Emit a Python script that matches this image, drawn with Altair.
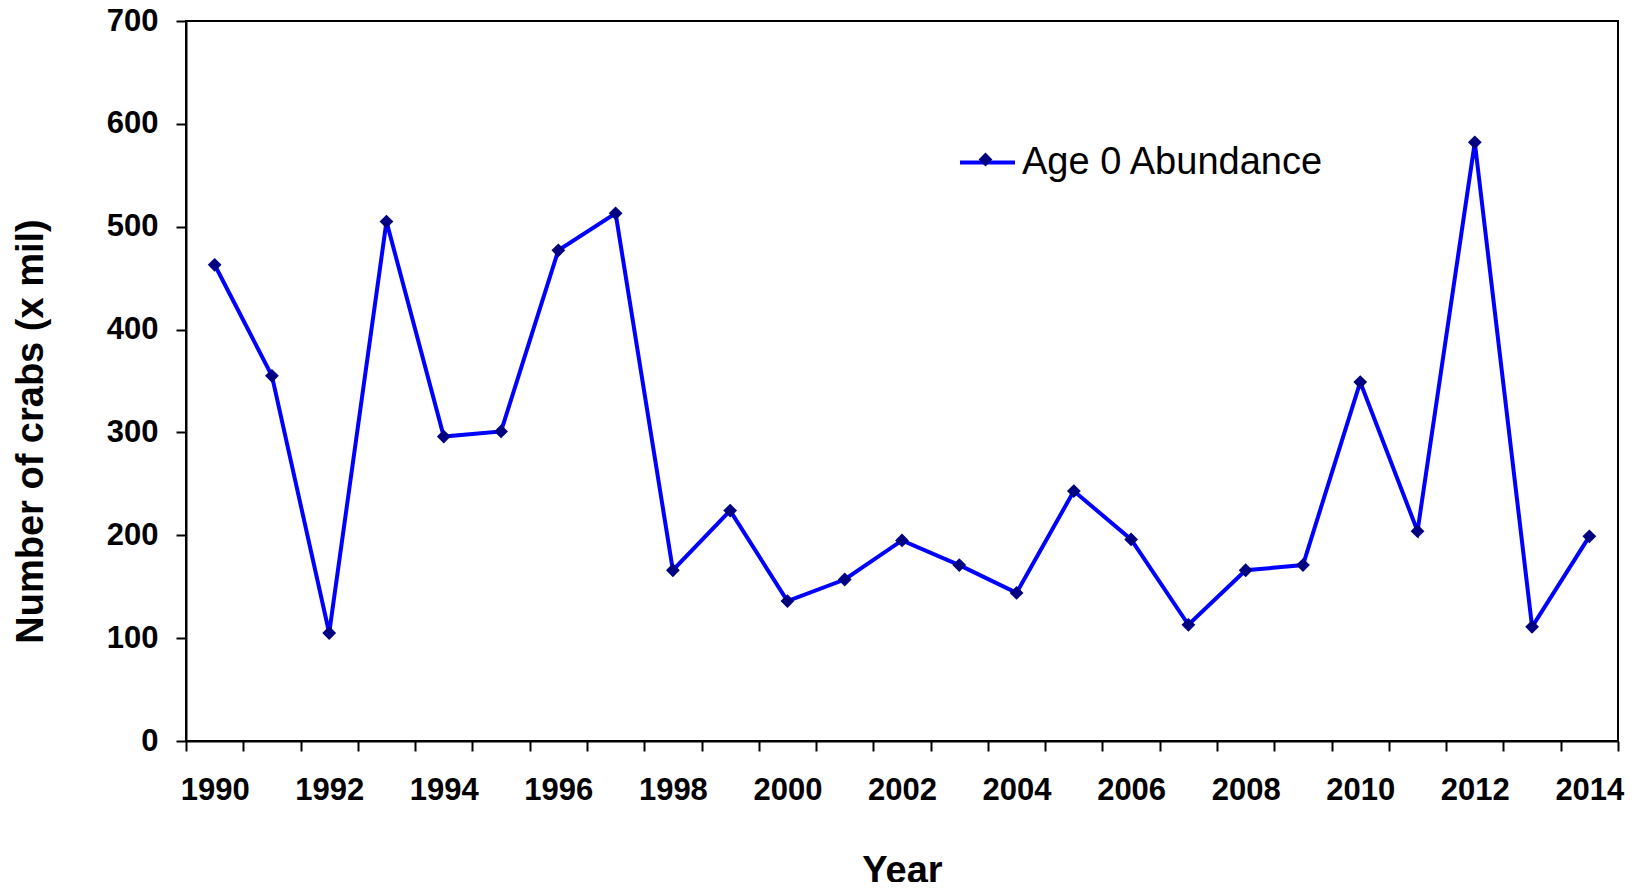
import altair as alt
import pandas as pd

years = list(range(1990, 2015))
abundance = [463, 355, 105, 505, 296, 301, 477, 513, 166, 224, 136, 157, 195,
             171, 144, 243, 196, 113, 166, 171, 349, 204, 582, 111, 199]
series_name = "Age 0 Abundance"
y_ticks = [0, 100, 200, 300, 400, 500, 600, 700]

df = pd.DataFrame({"Year": years, "Abundance": abundance,
                   "Series": [series_name] * len(years)})

FONT = "Arial, Liberation Sans, Helvetica, sans-serif"

x_enc = alt.X(
    "Year:O",
    scale=alt.Scale(type="band", paddingInner=0, paddingOuter=0),
    axis=alt.Axis(
        title="Year",
        labelAngle=0,
        tickBand="extent",
        labelExpr="datum.value % 2 == 0 ? datum.label : ''",
        labelOverlap=False,
        labelPadding=24,
        titleY=141,
        titleBaseline="alphabetic",
    ),
)
y_enc = alt.Y(
    "Abundance:Q",
    scale=alt.Scale(domain=[0, 700], nice=False),
    axis=alt.Axis(
        title="Number of crabs (x mil)",
        values=y_ticks,
        grid=False,
        labelPadding=18,
        titleX=-144,
        titleY=410,
        titleBaseline="alphabetic",
        titleAngle=270,
    ),
)

line = alt.Chart(df).mark_line(strokeWidth=4).encode(
    x=x_enc,
    y=y_enc,
    color=alt.Color(
        "Series:N",
        scale=alt.Scale(range=["#0000FF"]),
        legend=alt.Legend(
            title=None, orient="none", legendX=772, legendY=112,
            symbolType="stroke", symbolSize=3025, symbolStrokeWidth=4,
            labelFontSize=38, labelFont=FONT, labelColor="black",
            labelOffset=5, padding=0, labelLimit=0,
        ),
    ),
)

points = alt.Chart(df).mark_point(filled=True, size=190, opacity=1).encode(
    x=x_enc,
    y=y_enc,
    color=alt.value("#000080"),
    shape=alt.Shape(
        "Series:N",
        scale=alt.Scale(range=["diamond"]),
        legend=alt.Legend(
            title=None, orient="none", legendX=781, legendY=120,
            symbolSize=190, symbolFillColor="#000080", symbolStrokeWidth=0,
            symbolOpacity=1,
            labelExpr="''",
            labelFontSize=37, labelFont=FONT,
            labelOffset=10, padding=0, labelLimit=0,
        ),
    ),
)

chart = alt.layer(line, points).properties(
    width=1432,
    height=720,
    autosize=alt.AutoSizeParams(type="none"),
    padding={"left": 178, "top": 13, "right": 10, "bottom": 141},
    background="white",
).configure_view(
    stroke="black", strokeWidth=2
).configure_axis(
    domainColor="black", domainWidth=2,
    tickColor="black", tickWidth=2, tickSize=10,
    labelFont=FONT, labelFontSize=31, labelFontWeight="bold", labelColor="black",
    titleFont=FONT, titleFontSize=38, titleFontWeight="bold", titleColor="black",
)

chart.save("out.html", embed_options={"renderer": "svg", "actions": False})
